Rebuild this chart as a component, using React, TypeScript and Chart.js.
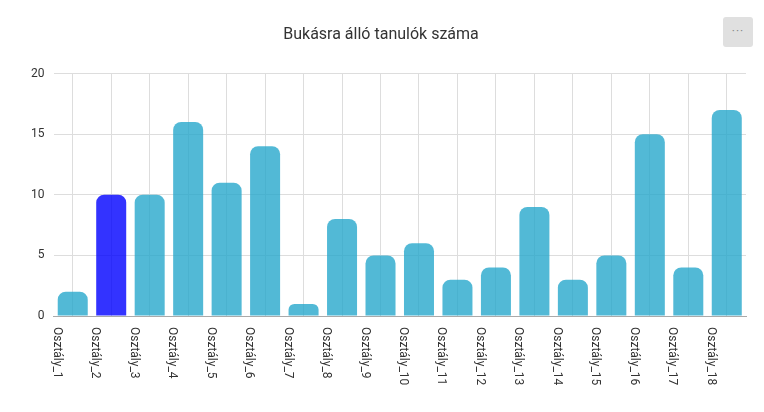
import React, { useEffect, useRef } from "react";
import { Chart, registerables } from "chart.js";

Chart.register(...registerables);

const categories = [
  "Osztály_1", "Osztály_2", "Osztály_3", "Osztály_4", "Osztály_5", "Osztály_6",
  "Osztály_7", "Osztály_8", "Osztály_9", "Osztály_10", "Osztály_11", "Osztály_12",
  "Osztály_13", "Osztály_14", "Osztály_15", "Osztály_16", "Osztály_17", "Osztály_18",
];
const values = [2, 10, 10, 16, 11, 14, 1, 8, 5, 6, 3, 4, 9, 3, 5, 15, 4, 17];
const highlightedIndex = 1;
const yTicks = [0, 5, 10, 15, 20];
const title = "Bukásra álló tanulók száma";

const BAR = "rgba(39,168,204,0.8)";
const BAR_HI = "rgba(0,0,255,0.8)";
const FONT = "Roboto, 'Noto Sans', sans-serif";

const rotatedLabels = {
  id: "rotatedLabels",
  afterDraw(chart: any) {
    const { ctx, scales } = chart;
    const x = scales.x;
    const area = chart.chartArea;
    ctx.save();
    ctx.fillStyle = "#333";
    ctx.font = `12px ${FONT}`;
    ctx.textAlign = "left";
    ctx.textBaseline = "middle";
    categories.forEach((lab, i) => {
      const px = x.getPixelForValue(i) - 16;
      ctx.save();
      ctx.translate(px, area.bottom + 11);
      ctx.rotate(Math.PI / 2);
      ctx.fillText(lab, 0, 0);
      ctx.restore();
    });
    ctx.restore();
  },
};

export default function App() {
  const ref = useRef<HTMLCanvasElement | null>(null);
  useEffect(() => {
    document.body.style.margin = "0";
    if (!ref.current) return;
    const chart = new Chart(ref.current, {
      type: "bar",
      data: {
        labels: categories,
        datasets: [
          {
            data: values,
            backgroundColor: values.map((_, i) => (i === highlightedIndex ? BAR_HI : BAR)),
            borderWidth: 0,
            borderRadius: 8,
            borderSkipped: "start",
            categoryPercentage: 1,
            barPercentage: 0.78,
          },
        ],
      },
      options: {
        animation: false,
        responsive: false,
        devicePixelRatio: 1,
        layout: { padding: { left: 16, right: 18, bottom: 96, top: 0 } },
        plugins: {
          legend: { display: false },
          tooltip: { enabled: false },
          title: {
            display: true,
            text: title,
            color: "#333",
            font: { family: FONT, size: 16, weight: "normal" },
            padding: { top: 25.5, bottom: 28.8 },
          },
        },
        scales: {
          x: {
            grid: { offset: false, color: "#dddddd", drawTicks: false },
            border: { display: true, color: "#aaaaaa" },
            ticks: { display: false },
          },
          y: {
            min: 0,
            max: 20,
            afterBuildTicks: (s: any) => {
              s.ticks = yTicks.map((v) => ({ value: v }));
            },
            afterFit: (s: any) => {
              s.width = 37.5;
            },
            grid: { color: "#dddddd", drawTicks: false },
            border: { display: false },
            ticks: {
              color: "#333",
              padding: 9,
              font: { family: FONT, size: 12 },
            },
          },
        },
      },
      plugins: [rotatedLabels],
    });
    return () => chart.destroy();
  }, []);
  return (
    <div style={{ position: "relative", width: 764, height: 412, background: "#fff" }}>
      <canvas ref={ref} width={764} height={412} style={{ display: "block" }} />
      <div
        style={{
          position: "absolute",
          left: 723,
          top: 17,
          width: 30,
          height: 30,
          background: "#e0e0e0",
          borderRadius: 3,
          color: "#888",
          fontFamily: FONT,
          fontSize: 12,
          lineHeight: "28px",
          textAlign: "center",
          letterSpacing: 1,
        }}
      >
        ···
      </div>
    </div>
  );
}
